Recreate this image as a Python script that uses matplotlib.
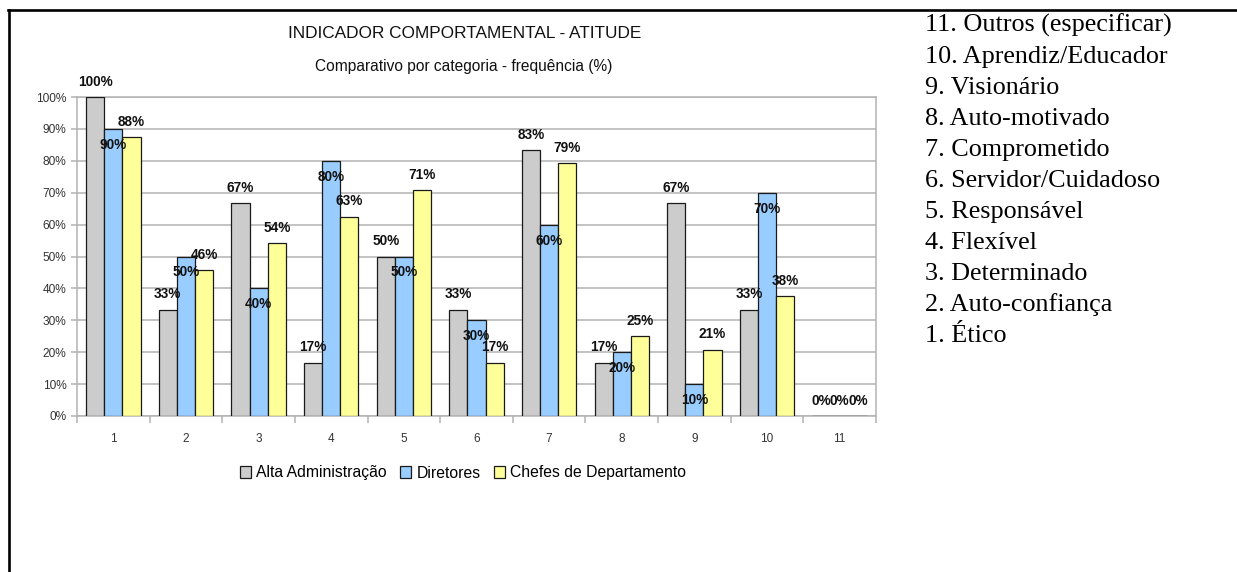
import matplotlib
matplotlib.use("Agg")
import matplotlib.pyplot as plt
from matplotlib.lines import Line2D
import numpy as np

# data (%)
categories = ["1", "2", "3", "4", "5", "6", "7", "8", "9", "10", "11"]
alta = [100, 33.3, 66.7, 16.7, 50, 33.3, 83.3, 16.7, 66.7, 33.3, 0]
diretores = [90, 50, 40, 80, 50, 30, 60, 20, 10, 70, 0]
chefes = [87.5, 45.8, 54.2, 62.5, 70.8, 16.7, 79.2, 25, 20.8, 37.5, 0]
series_names = ["Alta Administração", "Diretores", "Chefes de Departamento"]
yticks = [0, 10, 20, 30, 40, 50, 60, 70, 80, 90, 100]
item_list = [
    "11. Outros (especificar)",
    "10. Aprendiz/Educador",
    "9. Visionário",
    "8. Auto-motivado",
    "7. Comprometido",
    "6. Servidor/Cuidadoso",
    "5. Responsável",
    "4. Flexível",
    "3. Determinado",
    "2. Auto-confiança",
    "1. Ético",
]
title = "INDICADOR COMPORTAMENTAL - ATITUDE"
subtitle = "Comparativo por categoria - frequência (%)"

### Plot config ###
W, H = 1237, 572
plt.rcParams["font.family"] = ["Liberation Sans", "DejaVu Sans"]
colors = ["#cccccc", "#99ccff", "#ffff99"]
grid_color = "#b3b3b3"
bar_w = 0.25
### End of plot config ###

fig = plt.figure(figsize=(W / 100, H / 100), dpi=100)
ax = fig.add_axes([77 / W, 1 - 416 / H, (876 - 77) / W, (416 - 97) / H])

x = np.arange(len(categories))
all_series = [alta, diretores, chefes]
offsets = [-bar_w, 0, bar_w]
bars = []
for vals, off, col, name in zip(all_series, offsets, colors, series_names):
    b = ax.bar(x + off, vals, width=bar_w, color=col, edgecolor="#1a1a1a",
               linewidth=0.9, label=name, zorder=3)
    bars.append(b)

# data labels: blue ones sit inside below the top, others above
for i, (vals, off) in enumerate(zip(all_series, offsets)):
    for xi, v in zip(x, vals):
        dy = -11.5 if (i == 1 and v > 0) else 11
        pct = int(np.floor(v + 0.5))  # round half up like the spreadsheet
        ax.annotate(f"{pct}%", (xi + off, v), xytext=(0, dy),
                    textcoords="offset points", ha="center", va="center",
                    fontsize=9.8, fontweight="bold", color="#111111", zorder=5)

ax.set_xlim(-0.5, len(categories) - 0.5)
ax.set_ylim(0, 100)
ax.set_yticks(yticks)
ax.set_yticklabels([f"{t}%" for t in yticks])
ax.yaxis.grid(True, color=grid_color, linewidth=1.1, zorder=0)
ax.set_axisbelow(True)

ax.set_xticks(x)
ax.set_xticklabels(categories)
ax.set_xticks(np.arange(-0.5, len(categories)), minor=True)
ax.tick_params(axis="x", which="major", length=0, pad=12, labelsize=8.5,
               labelcolor="#333333")
ax.tick_params(axis="x", which="minor", length=5, width=1.1, color=grid_color,
               direction="out")
ax.tick_params(axis="y", length=4.5, width=1.1, color=grid_color, pad=3,
               labelsize=8.6, labelcolor="#333333")
for s in ["left", "right", "bottom", "top"]:
    ax.spines[s].set_color(grid_color)
    ax.spines[s].set_linewidth(1.1)

fig.text(465 / W, 1 - 33 / H, title, ha="center", va="center", fontsize=12.4,
         color="#111111")
fig.text(464 / W, 1 - 67 / H, subtitle, ha="center", va="center", fontsize=11.2,
         color="#111111")

fig.legend(handles=bars, labels=series_names, loc="center",
           bbox_to_anchor=(463 / W, 1 - 473 / H), ncol=3, frameon=False,
           fontsize=11.3, handlelength=0.7, handleheight=0.75,
           handletextpad=0.35, columnspacing=0.85, borderaxespad=0)

# list of categories on the right
for k, txt in enumerate(item_list):
    fig.text(925 / W, 1 - (32 + 31 * k) / H, txt, ha="left", va="baseline",
             fontsize=18.8, family=["Liberation Serif", "DejaVu Serif"],
             color="black")

# page border lines
fig.add_artist(Line2D([8 / W, 1], [1 - 10 / H, 1 - 10 / H], color="black",
                      linewidth=1.9, transform=fig.transFigure))
fig.add_artist(Line2D([9 / W, 9 / W], [1 - 10 / H, 0], color="black",
                      linewidth=1.9, transform=fig.transFigure))

fig.savefig("out.png", dpi=100)
